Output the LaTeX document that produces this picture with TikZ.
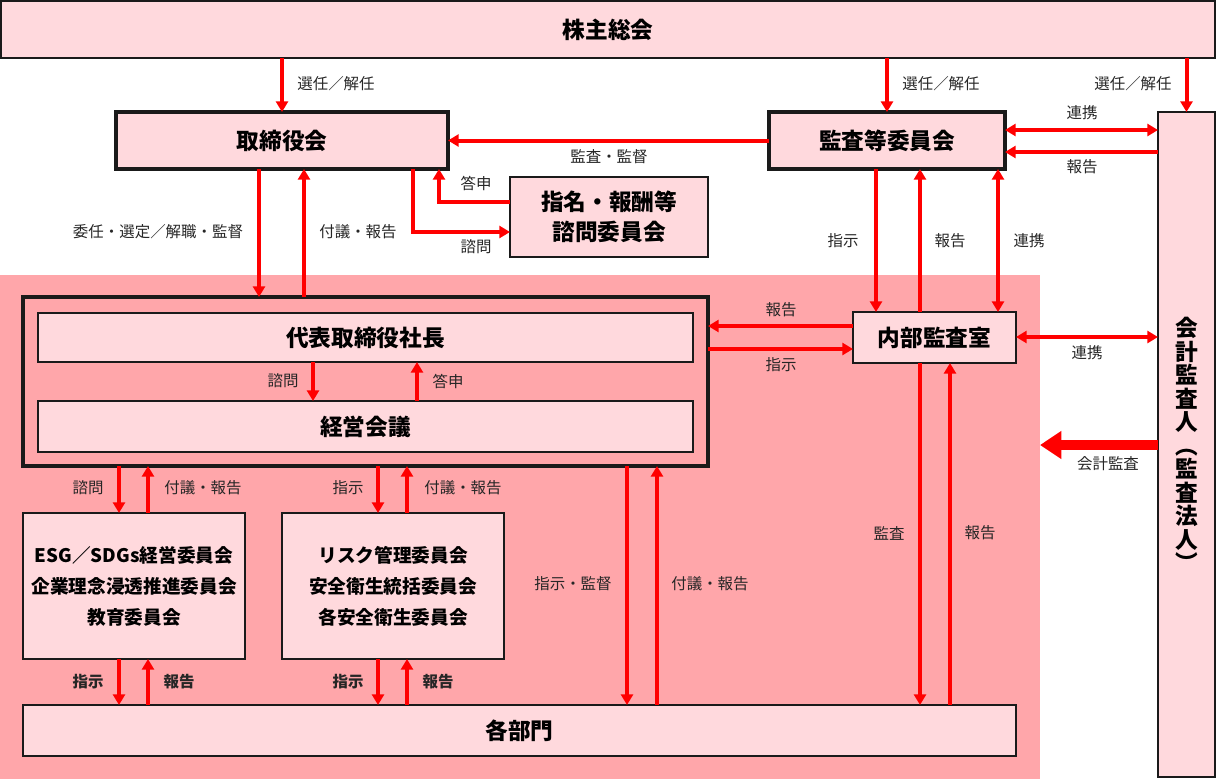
\documentclass[tikz,border=0pt]{standalone}
\usepackage{fontspec}
\setmainfont{Noto Sans CJK JP}
\usetikzlibrary{arrows.meta}
\definecolor{boxpink}{HTML}{FFD9DD}
\definecolor{regpink}{HTML}{FFA6AA}
\definecolor{arrred}{HTML}{FF0000}
\definecolor{bord}{HTML}{1A1A1A}
\newcommand\ttl{\fontsize{17}{22.5}\selectfont\bfseries}
\newcommand\cmt{\fontsize{14}{23.2}\selectfont\bfseries}
\newcommand\vtl{\fontsize{17}{17.6}\selectfont\bfseries}
\newcommand\lbf{\fontsize{11.6}{13}\selectfont}
\newcommand\bx[7]{\node[#6, minimum width={(#4-#2)*0.75pt}, minimum height={(#5-#3)*0.75pt}] (#1) at ({(#2+#4)/2},{(#3+#5)/2}) {#7};}
\begin{document}
\begin{tikzpicture}[x=0.75pt,y=-0.75pt,
  box/.style={draw=bord, fill=boxpink, line width=1.3pt, inner sep=0pt, outer sep=0pt},
  tbox/.style={box, line width=2.5pt},
  obox/.style={draw=bord, line width=2.5pt, inner sep=0pt, outer sep=0pt},
  arr/.style={draw=arrred, line width=3pt, -{Triangle[width=9pt,length=8pt]}},
  darr/.style={draw=arrred, line width=3pt, {Triangle[width=9pt,length=8pt]}-{Triangle[width=9pt,length=8pt]}},
  big/.style={draw=arrred, line width=7.5pt, -{Triangle[width=20pt,length=16pt]}},
  lbl/.style={font=\lbf, text=black!85, inner sep=0pt},
  lblb/.style={lbl, font=\lbf\bfseries}]
\useasboundingbox (0,0) rectangle (1217,779);
\fill[regpink] (0,275) rectangle (1040,779);
% boxes
\bx{kabu}{1}{1}{1215}{58}{box, font=\ttl}{株主総会}
\bx{tori}{116}{112}{448}{169}{tbox, font=\ttl}{取締役会}
\bx{kansa}{769}{112}{1005}{169}{tbox, font=\ttl}{監査等委員会}
\bx{shimei}{510}{177}{708}{257}{box, font=\ttl, align=center}{指名・報酬等\\諮問委員会}
\bx{outer}{23}{297}{708}{466}{obox}{}
\bx{shacho}{38}{313}{693}{362}{box, font=\ttl}{代表取締役社長}
\bx{keiei}{38}{401}{693}{452}{box, font=\ttl}{経営会議}
\bx{naibu}{853}{312}{1016}{363}{box, font=\ttl}{内部監査室}
\bx{kaikei}{1158}{112}{1215}{777}{box, font=\vtl, align=center}{会\\計\\監\\査\\人\\︵\\監\\査\\法\\人\\︶}
\bx{esg}{23}{513}{245}{659}{box, font=\cmt, align=center}{ESG／SDGs経営委員会\\企業理念浸透推進委員会\\教育委員会}
\bx{risk}{282}{513}{504}{659}{box, font=\cmt, align=center}{リスク管理委員会\\安全衛生統括委員会\\各安全衛生委員会}
\bx{kakubu}{23}{705}{1016}{756}{box, font=\ttl}{各部門}
\coordinate (bigend) at (1040,445);
% connectors
\draw[arr] (kabu.south -| tori.north) -- (tori.north);
\draw[arr] (kabu.south -| kansa.north) -- (kansa.north);
\draw[arr] (kabu.south -| kaikei.north) -- (kaikei.north);
\draw[arr] (kansa.west) -- (tori.east);
\draw[darr] (kansa.east |- 0,130) -- (kaikei.west |- 0,130);
\draw[arr] (kaikei.west |- 0,152) -- (kansa.east |- 0,152);
\draw[arr] (tori.south -| 413,0) |- (shimei.west |- 0,232);
\draw[arr] (shimei.west |- 0,202) -| (tori.south -| 439,0);
\draw[arr] (tori.south -| 259,0) -- (outer.north -| 259,0);
\draw[arr] (outer.north -| 304,0) -- (tori.south -| 304,0);
\draw[arr] (kansa.south -| 876,0) -- (naibu.north -| 876,0);
\draw[arr] (naibu.north -| 920,0) -- (kansa.south -| 920,0);
\draw[darr] (kansa.south -| 998,0) -- (naibu.north -| 998,0);
\draw[arr] (naibu.west |- 0,326) -- (outer.east |- 0,326);
\draw[arr] (outer.east |- 0,349) -- (naibu.west |- 0,349);
\draw[darr] (naibu.east |- 0,337) -- (kaikei.west |- 0,337);
\draw[big] (kaikei.west |- bigend) -- (bigend);
\draw[arr] (shacho.south -| 313,0) -- (keiei.north -| 313,0);
\draw[arr] (keiei.north -| 417,0) -- (shacho.south -| 417,0);
\draw[arr] (outer.south -| 119,0) -- (esg.north -| 119,0);
\draw[arr] (esg.north -| 148,0) -- (outer.south -| 148,0);
\draw[arr] (outer.south -| 378,0) -- (risk.north -| 378,0);
\draw[arr] (risk.north -| 407,0) -- (outer.south -| 407,0);
\draw[arr] (outer.south -| 627,0) -- (kakubu.north -| 627,0);
\draw[arr] (kakubu.north -| 657,0) -- (outer.south -| 657,0);
\draw[arr] (naibu.south -| 920,0) -- (kakubu.north -| 920,0);
\draw[arr] (kakubu.north -| 950,0) -- (naibu.south -| 950,0);
\draw[arr] (esg.south -| 119,0) -- (kakubu.north -| 119,0);
\draw[arr] (kakubu.north -| 148,0) -- (esg.south -| 148,0);
\draw[arr] (risk.south -| 378,0) -- (kakubu.north -| 378,0);
\draw[arr] (kakubu.north -| 407,0) -- (risk.south -| 407,0);
% labels
\node[lbl] (l1) at (336,84) {選任／解任};
\node[lbl] (l2) at (941,84) {選任／解任};
\node[lbl] (l3) at (1133,84) {選任／解任};
\node[lbl] (l4) at (1082,113) {連携};
\node[lbl] (l5) at (1082,167) {報告};
\node[lbl] (l6) at (609,157) {監査・監督};
\node[lbl] (l7) at (476,184) {答申};
\node[lbl] (l8) at (476,247) {諮問};
\node[lbl] (l9) at (158,232) {委任・選定／解職・監督};
\node[lbl] (l10) at (358,232) {付議・報告};
\node[lbl] (l11) at (843,241) {指示};
\node[lbl] (l12) at (950,241) {報告};
\node[lbl] (l13) at (1029,241) {連携};
\node[lbl] (l14) at (781,310) {報告};
\node[lbl] (l15) at (781,365) {指示};
\node[lbl] (l16) at (1087,353) {連携};
\node[lbl] (l17) at (1108,464) {会計監査};
\node[lbl] (l18) at (283,381) {諮問};
\node[lbl] (l19) at (448,381) {答申};
\node[lbl] (l20) at (88,488) {諮問};
\node[lbl] (l21) at (203,488) {付議・報告};
\node[lbl] (l22) at (348,488) {指示};
\node[lbl] (l23) at (463,488) {付議・報告};
\node[lbl] (l24) at (573,584) {指示・監督};
\node[lbl] (l25) at (710,584) {付議・報告};
\node[lbl] (l26) at (889,533) {監査};
\node[lbl] (l27) at (980,533) {報告};
\node[lblb] (l28) at (88,682) {指示};
\node[lblb] (l29) at (179,682) {報告};
\node[lblb] (l30) at (348,682) {指示};
\node[lblb] (l31) at (438,682) {報告};
\end{tikzpicture}
\end{document}
